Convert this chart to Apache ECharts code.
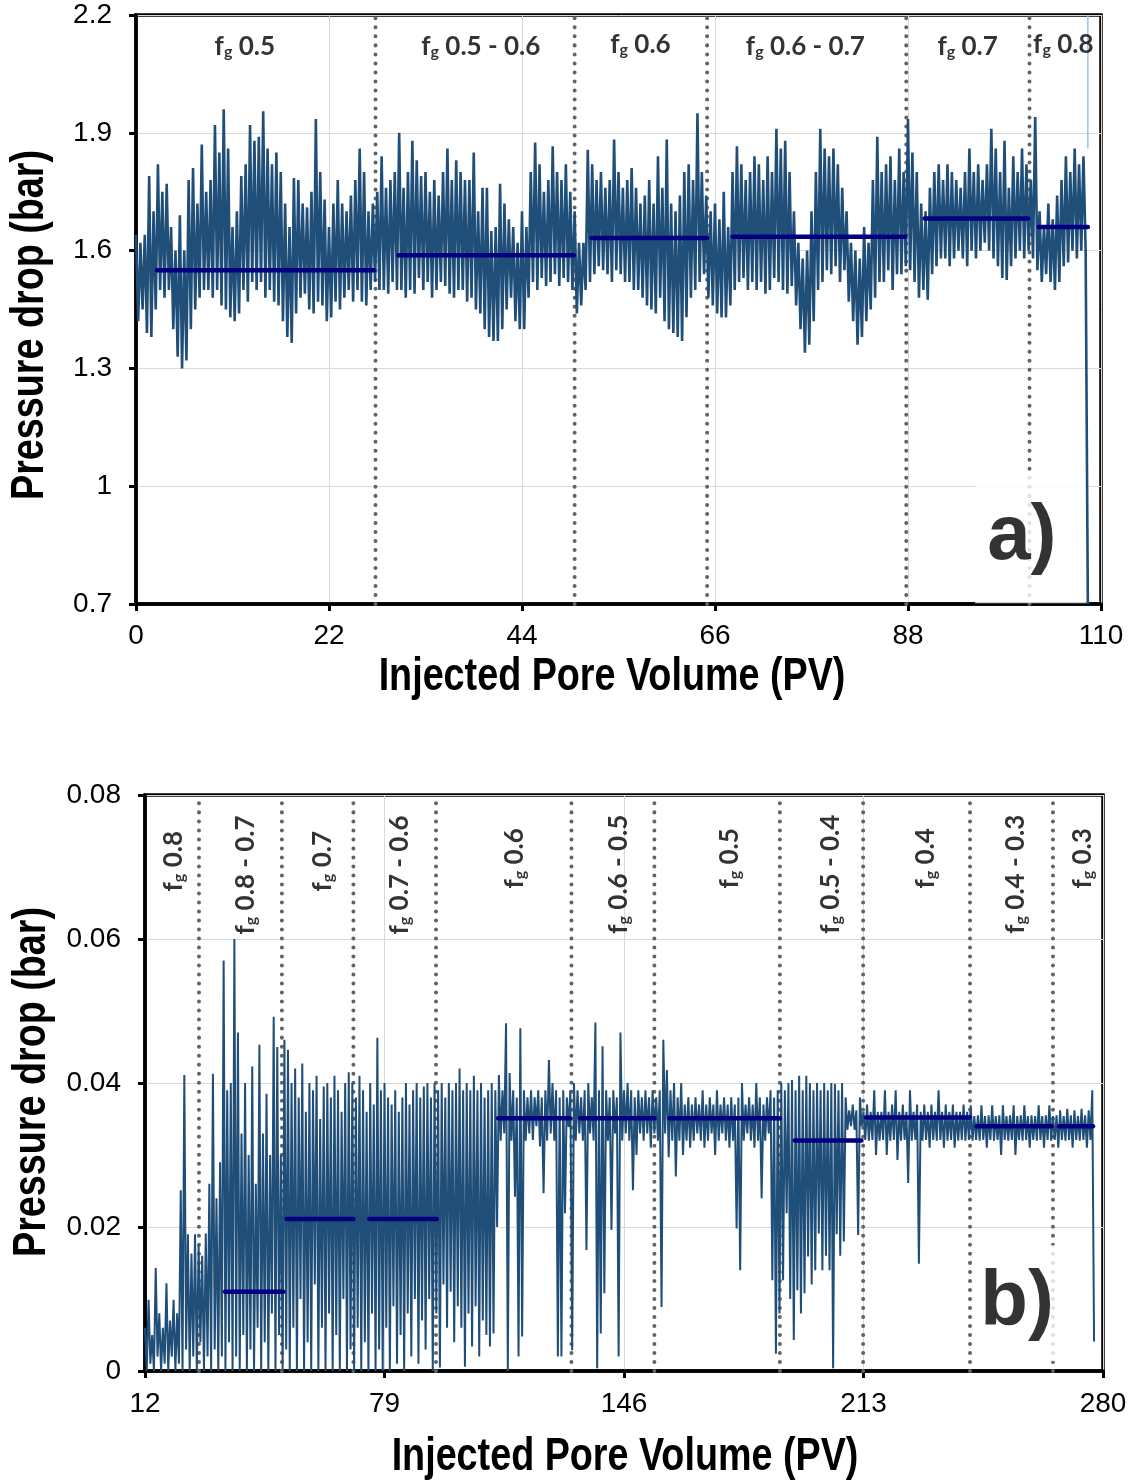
<!DOCTYPE html>
<html><head><meta charset="utf-8">
<script src="https://cdn.jsdelivr.net/npm/echarts@6/dist/echarts.min.js"></script>
<style>html,body{margin:0;padding:0;background:#fff}#c{width:1135px;height:1481px}</style>
</head><body><div id="c"></div><script>
// ---------------- Panel a) data ----------------
const topStart = 0, topStep = 0.25;
const topPressure = [
1.64,1.42,1.62,1.45, 1.64,1.39,1.79,1.38, 1.70,1.45,1.82,1.50, 1.75,1.48,1.77,1.50, 1.66,1.40,1.60,1.33, 1.69,1.30,1.60,1.32, 1.78,1.40,1.81,1.45, 1.72,1.48,1.87,1.50, 1.75,1.50,1.78,1.48, 1.92,1.50,1.85,1.46,
1.96,1.45,1.86,1.43, 1.66,1.42,1.70,1.44, 1.79,1.50,1.82,1.47, 1.92,1.52,1.88,1.50, 1.89,1.52,1.955,1.48, 1.86,1.50,1.82,1.47, 1.85,1.46,1.80,1.42, 1.72,1.38,1.66,1.365, 1.785,1.44,1.78,1.48, 1.72,1.49,1.71,1.45,
1.75,1.44,1.935,1.47, 1.80,1.46,1.73,1.42, 1.66,1.43,1.72,1.47, 1.78,1.45,1.72,1.48, 1.70,1.50,1.74,1.47, 1.78,1.50,1.86,1.47, 1.80,1.46,1.70,1.50, 1.72,1.52,1.75,1.50, 1.84,1.50,1.76,1.49, 1.78,1.52,1.80,1.50,
1.90,1.50,1.76,1.48, 1.80,1.50,1.88,1.49, 1.83,1.53,1.79,1.50, 1.80,1.52,1.75,1.48, 1.78,1.50,1.74,1.52, 1.80,1.51,1.86,1.49, 1.78,1.48,1.83,1.50, 1.80,1.50,1.78,1.47, 1.78,1.48,1.85,1.45, 1.70,1.44,1.76,1.40,
1.76,1.38,1.65,1.37, 1.66,1.37,1.77,1.40, 1.72,1.45,1.68,1.48, 1.66,1.42,1.62,1.40, 1.70,1.40,1.66,1.48, 1.80,1.52,1.875,1.50, 1.82,1.53,1.75,1.51, 1.78,1.52,1.866,1.54, 1.80,1.51,1.78,1.53, 1.82,1.52,1.75,1.50,
1.70,1.44,1.62,1.46, 1.62,1.50,1.857,1.52, 1.82,1.54,1.78,1.56, 1.80,1.55,1.76,1.54, 1.78,1.52,1.883,1.55, 1.80,1.54,1.76,1.52, 1.78,1.52,1.81,1.50, 1.76,1.50,1.72,1.48, 1.74,1.46,1.78,1.45, 1.72,1.44,1.84,1.48,
1.76,1.42,1.883,1.40, 1.72,1.39,1.70,1.38, 1.74,1.37,1.80,1.43, 1.82,1.48,1.78,1.50, 1.95,1.52,1.80,1.54, 1.74,1.48,1.70,1.46, 1.72,1.44,1.68,1.43, 1.75,1.43,1.66,1.46, 1.80,1.50,1.866,1.52, 1.82,1.53,1.78,1.50,
1.80,1.52,1.84,1.50, 1.82,1.52,1.78,1.49, 1.84,1.50,1.80,1.53, 1.91,1.52,1.86,1.50, 1.88,1.49,1.80,1.51, 1.70,1.46,1.62,1.40, 1.58,1.34,1.60,1.36, 1.70,1.42,1.80,1.50, 1.91,1.52,1.86,1.55, 1.84,1.54,1.86,1.56,
1.82,1.52,1.76,1.55, 1.70,1.47,1.62,1.42, 1.60,1.36,1.58,1.38, 1.66,1.42,1.62,1.45, 1.78,1.48,1.89,1.52, 1.80,1.52,1.82,1.55, 1.84,1.50,1.78,1.54, 1.86,1.54,1.80,1.56, 1.935,1.55,1.85,1.52, 1.80,1.48,1.72,1.50,
1.70,1.475,1.76,1.54, 1.80,1.56,1.82,1.58, 1.78,1.58,1.82,1.56, 1.80,1.58,1.78,1.60, 1.76,1.58,1.80,1.56, 1.86,1.60,1.80,1.58, 1.82,1.60,1.78,1.62, 1.82,1.60,1.91,1.58, 1.86,1.56,1.80,1.53, 1.88,1.525,1.76,1.56,
1.84,1.58,1.80,1.60, 1.86,1.58,1.82,1.60, 1.78,1.58,1.94,1.55, 1.70,1.52,1.66,1.54, 1.72,1.52,1.68,1.50, 1.74,1.52,1.78,1.56, 1.84,1.57,1.80,1.60, 1.86,1.58,1.82,1.60,
1.84,1.60,0.7
];
const topTailX = 108.5, topTailY = [1.86, 2.2];
const topDividers = [27.3, 50.0, 65.1, 87.8, 101.85];
const topMeanStart = [2.4, 29.9, 51.9, 68.0, 89.9, 102.9];
const topMeanEnd   = [27.1, 49.9, 65.1, 87.7, 101.7, 108.5];
const topMeanValue = [1.55, 1.588, 1.632, 1.635, 1.682, 1.66];
const topLabels = ['0.5', '0.5 - 0.6', '0.6', '0.6 - 0.7', '0.7', '0.8'];
const topLabelX = [12.4, 39.3, 57.5, 76.3, 94.8, 105.7];
const topLabelY = [2.13, 2.13, 2.135, 2.13, 2.13, 2.135];
const topYTicks = {min: 0.7, max: 2.2, interval: 0.3};
const topXTicks = {min: 0, max: 110, interval: 22};

// ---------------- Panel b) data ----------------
const botStart = 12, botStep = 0.5;
const botPressure = [
0.006,0, 0.0099,0.001, 0.005,0, 0.0143,0.002, 0.008,0, 0.006,0.001, 0.0122,0, 0.007,0.002, 0.0099,0, 0.008,0.001,
0.0251,0, 0.0411,0.003, 0.019,0, 0.0163,0.002, 0.019,0, 0.0175,0.004, 0.016,0, 0.0191,0.002, 0.026,0, 0.0413,0.003,
0.024,0, 0.029,0.002, 0.057,0, 0.039,0.004, 0.040,0, 0.060,0.002, 0.047,0, 0.033,0.005, 0.040,0, 0.030,0.003,
0.0423,0, 0.026,0.006, 0.0453,0, 0.033,0.004, 0.0385,0, 0.030,0.008, 0.0492,0, 0.045,0.005, 0.030,0, 0.046,0.003,
0.0446,0, 0.040,0.006, 0.042,0, 0.038,0.010, 0.0427,0, 0.036,0.004, 0.040,0, 0.039,0.012, 0.041,0, 0.035,0.006,
0.0395,0, 0.040,0.008, 0.038,0, 0.041,0.005, 0.039,0, 0.036,0.010, 0.040,0, 0.0415,0.003, 0.040,0, 0.038,0.006,
0.041,0, 0.039,0.004, 0.036,0, 0.040,0.008, 0.037,0, 0.0463,0.003, 0.039,0, 0.040,0.006, 0.038,0, 0.037,0.009,
0.039,0.001, 0.036,0.005, 0.038,0, 0.040,0.008, 0.037,0.002, 0.039,0.010, 0.040,0.001, 0.038,0.007, 0.0395,0.003, 0.040,0.010,
0.038,0, 0.040,0.008, 0.039,0.0005, 0.040,0.012, 0.038,0.006, 0.040,0.011, 0.039,0.004, 0.040,0.009, 0.042,0.006, 0.039,0.0006,
0.040,0.008, 0.039,0.0034, 0.041,0.009, 0.039,0.002, 0.040,0.007, 0.038,0.005, 0.039,0.0034, 0.040,0.0052, 0.039,0.020, 0.0411,0.032,
0.039,0.033, 0.0483,0, 0.0414,0.032, 0.039,0.0242, 0.038,0.002, 0.0476,0.0048, 0.039,0.032, 0.038,0.033, 0.039,0.0321, 0.038,0.034,
0.039,0.0312, 0.038,0.0247, 0.039,0.032, 0.0432,0.033, 0.040,0.032, 0.039,0.002, 0.038,0.002, 0.039,0.0219, 0.038,0.0339, 0.039,0.0029,
0.040,0.032, 0.039,0.033, 0.038,0.032, 0.039,0.0168, 0.040,0.033, 0.038,0.032, 0.0484,0.0004, 0.039,0.0052, 0.0451,0.0108, 0.039,0.032,
0.038,0.0196, 0.039,0.033, 0.038,0.002, 0.047,0.032, 0.039,0.033, 0.040,0.032, 0.039,0.0251, 0.038,0.030, 0.039,0.033, 0.038,0.032,
0.039,0.033, 0.038,0.031, 0.039,0.033, 0.038,0.032, 0.039,0.0089, 0.046,0.033, 0.0418,0.0297, 0.039,0.032, 0.040,0.027, 0.038,0.032,
0.040,0.030, 0.037,0.032, 0.038,0.031, 0.037,0.032, 0.038,0.033, 0.037,0.032, 0.039,0.031, 0.037,0.032, 0.038,0.033, 0.037,0.030,
0.039,0.032, 0.037,0.033, 0.038,0.032, 0.037,0.031, 0.038,0.032, 0.037,0.0198, 0.038,0.014, 0.040,0.032, 0.037,0.033, 0.038,0.032,
0.037,0.031, 0.040,0.032, 0.038,0.024, 0.037,0.032, 0.038,0.033, 0.039,0.0126, 0.038,0.0024, 0.039,0.008, 0.040,0.0126, 0.039,0.0219,
0.040,0.010, 0.0404,0.0043, 0.039,0.0112, 0.041,0.008, 0.039,0.0108, 0.041,0.0159, 0.040,0.012, 0.039,0.014, 0.040,0.0191, 0.039,0.014,
0.040,0.016, 0.039,0.014, 0.040,0.0004, 0.0399,0.019, 0.039,0.016, 0.040,0.018, 0.038,0.0335, 0.0362,0.034, 0.037,0.0335, 0.0362,0.0189,
0.038,0.034, 0.036,0.0321, 0.037,0.032, 0.036,0.0321, 0.039,0.030, 0.036,0.032, 0.036,0.0321, 0.039,0.030, 0.036,0.032, 0.037,0.0321,
0.039,0.0293, 0.036,0.032, 0.037,0.0321, 0.036,0.0261, 0.039,0.032, 0.036,0.0321, 0.037,0.0149, 0.036,0.032, 0.037,0.0321, 0.036,0.031,
0.037,0.0321, 0.036,0.032, 0.039,0.0321, 0.036,0.031, 0.037,0.032, 0.036,0.0321, 0.037,0.031, 0.036,0.032, 0.036,0.0321, 0.037,0.032,
0.036,0.0321, 0.0369,0.032, 0.0354,0.0321, 0.0355,0.032, 0.0369,0.0321, 0.0354,0.031, 0.0355,0.0321, 0.0369,0.032, 0.0354,0.0321, 0.0355,0.030,
0.0369,0.0321, 0.0354,0.032, 0.0355,0.0321, 0.0369,0.030, 0.0354,0.0321, 0.0355,0.032, 0.0369,0.0321, 0.0354,0.031, 0.0355,0.0321, 0.0354,0.032,
0.0369,0.0321, 0.0354,0.031, 0.0355,0.0321, 0.0369,0.032, 0.0354,0.0321, 0.0355,0.031, 0.0362,0.0321, 0.0354,0.032, 0.0364,0.0321, 0.0355,0.031,
0.0362,0.0321, 0.0354,0.032, 0.0364,0.0321, 0.0355,0.031, 0.0362,0.0321, 0.039,0.0041
];
const botDividers = [27.1, 50.3, 70.3, 93.4, 131.3, 154.5, 189.6, 212.9, 242.8, 266.0];
const botMeanStart = [34.4, 51.6, 74.75, 110.8, 133.7, 158.7, 193.8, 213.7, 244.6, 267.7];
const botMeanEnd   = [50.7, 70.3, 93.6, 130.9, 154.5, 189.6, 212.4, 242.7, 265.6, 277.2];
const botMeanValue = [0.011, 0.0211, 0.0211, 0.0351, 0.0351, 0.0351, 0.032, 0.0352, 0.034, 0.034];
const botLabels = ['0.8', '0.8 - 0.7', '0.7', '0.7 - 0.6', '0.6', '0.6 - 0.5', '0.5', '0.5 - 0.4', '0.4', '0.4 - 0.3', '0.3'];
const botLabelX = [19.0, 39.1, 60.7, 82.2, 114.4, 143.5, 174.5, 202.8, 229.3, 254.5, 273.3];
const botLabelY = [0.0708, 0.0689, 0.0708, 0.0689, 0.0712, 0.0690, 0.0712, 0.0690, 0.0712, 0.0690, 0.0712];
const botYTicks = {min: 0, max: 0.08, interval: 0.02};
const botXTicks = {min: 12, max: 280, interval: 67};

const xTitle = 'Injected Pore Volume (PV)';
const yTitle = 'Pressure drop (bar)';

// ---------------- Styling ----------------
const TRACE = '#1F4E79', MEAN = '#000080', DIV = '#636363';
const FONT_AX = "'Liberation Sans',Arial,sans-serif";
const FONT_LB = "Lato,'Open Sans',sans-serif";
const rich = {
  f: {fontFamily: FONT_LB, fontWeight: 'bold', fontSize: 26, color: '#000', lineHeight: 34, verticalAlign: 'bottom'},
  g: {fontFamily: FONT_LB, fontWeight: 'bold', fontSize: 16, color: '#000', lineHeight: 16, verticalAlign: 'bottom'}
};
const fgText = t => '{f|f}{g|g}{f| ' + t + '}';

function xAxisCfg(grid, ticks, margin) {
  return Object.assign({
    type: 'value', gridIndex: grid,
    axisLine: {lineStyle: {color: '#000', width: 3.5}},
    axisTick: {length: 7, lineStyle: {color: '#000', width: 3}},
    axisLabel: {fontSize: 28, color: '#000', fontFamily: FONT_AX, margin: margin},
    splitLine: {lineStyle: {color: '#d9d9d9', width: 1}}
  }, ticks);
}
function yAxisCfg(grid, ticks, fmt) {
  return Object.assign({
    type: 'value', gridIndex: grid,
    axisLine: {lineStyle: {color: '#000', width: 3.5}},
    axisTick: {length: 7, lineStyle: {color: '#000', width: 3}},
    axisLabel: {fontSize: 28, color: '#000', fontFamily: FONT_AX, margin: 24, formatter: fmt},
    splitLine: {lineStyle: {color: '#d9d9d9', width: 1}}
  }, ticks);
}

const series = [];
function addPanel(idx, start, step, values, dividers, yr, mS, mE, mV, labels, lx, ly, rotate, tag, tagPos, tagPad, lw) {
  dividers.forEach(x => series.push({
    type: 'line', xAxisIndex: idx, yAxisIndex: idx, z: 1, silent: true, showSymbol: false,
    data: [[x, yr[0]], [x, yr[1]]],
    lineStyle: {color: DIV, width: 4, type: [0.01, 9], cap: 'round'}
  }));
  series.push({
    type: 'scatter', xAxisIndex: idx, yAxisIndex: idx, z: 2, symbolSize: 0, silent: true,
    data: [{value: tagPos, name: tag}],
    label: {show: true, position: 'inside', formatter: tag, fontFamily: "'Liberation Sans',Arial,sans-serif",
      fontWeight: 'bold', fontSize: 78, color: '#000', backgroundColor: '#fff', padding: tagPad}
  });
  series.push({
    type: 'line', xAxisIndex: idx, yAxisIndex: idx, z: 3, silent: true, showSymbol: false,
    data: values.map((v, i) => [start + i * step, v]),
    lineStyle: {color: TRACE, width: lw}
  });
  mS.forEach((s, i) => series.push({
    type: 'line', xAxisIndex: idx, yAxisIndex: idx, z: 5, silent: true, showSymbol: false,
    data: [[s, mV[i]], [mE[i], mV[i]]],
    lineStyle: {color: MEAN, width: 4.5, cap: 'round'}
  }));
  series.push({
    type: 'scatter', xAxisIndex: idx, yAxisIndex: idx, z: 6, symbolSize: 0, silent: true,
    data: labels.map((t, i) => ({value: [lx[i], ly[i]], name: t})),
    label: {show: true, position: 'inside', rotate: rotate, align: 'center', verticalAlign: 'middle',
      formatter: p => fgText(p.name), rich: rich}
  });
}

addPanel(0, topStart, topStep, topPressure, topDividers, [topYTicks.min, topYTicks.max],
  topMeanStart, topMeanEnd, topMeanValue, topLabels, topLabelX, topLabelY, 0,
  'a)', [102.0, 0.87], [32, 30, 22, 12], 2.6);
series.push({
  type: 'line', xAxisIndex: 0, yAxisIndex: 0, z: 3, silent: true, showSymbol: false,
  data: topTailY.map(v => [topTailX, v]), lineStyle: {color: '#9DC3E6', width: 1.5}
});
addPanel(1, botStart, botStep, botPressure, botDividers, [botYTicks.min, botYTicks.max],
  botMeanStart, botMeanEnd, botMeanValue, botLabels, botLabelX, botLabelY, 90,
  'b)', [258.2, 0.0094], [28, 22, 10, 6], 2.0);

const titleStyle = {fontFamily: "'Liberation Sans',Arial,sans-serif", fontWeight: 'bold', fontSize: 46,
  fill: '#000', align: 'center', verticalAlign: 'middle'};
const titles = [
  {text: xTitle, x: 612, y: 677, rot: 0},
  {text: yTitle, x: 30, y: 325, rot: Math.PI / 2},
  {text: xTitle, x: 625, y: 1457, rot: 0},
  {text: yTitle, x: 32, y: 1082, rot: Math.PI / 2}
].map(t => ({type: 'text', x: t.x, y: t.y, rotation: t.rot, scaleX: 0.82, silent: true,
  style: Object.assign({text: t.text}, titleStyle)}));

const chart = echarts.init(document.getElementById('c'), null, {renderer: 'canvas'});
chart.setOption({
  animation: false,
  backgroundColor: '#fff',
  grid: [
    {left: 136, top: 15, width: 965, height: 589, show: true, borderColor: '#000', borderWidth: 3.5, backgroundColor: 'transparent'},
    {left: 145, top: 795, width: 958, height: 576, show: true, borderColor: '#000', borderWidth: 3.5, backgroundColor: 'transparent'}
  ],
  xAxis: [xAxisCfg(0, topXTicks, 18), xAxisCfg(1, botXTicks, 19)],
  yAxis: [
    yAxisCfg(0, topYTicks, v => String(Math.round(v * 10) / 10)),
    yAxisCfg(1, botYTicks, v => v === 0 ? '0' : (Math.round(v * 100) / 100).toFixed(2))
  ],
  graphic: titles,
  series: series
});
</script></body></html>
